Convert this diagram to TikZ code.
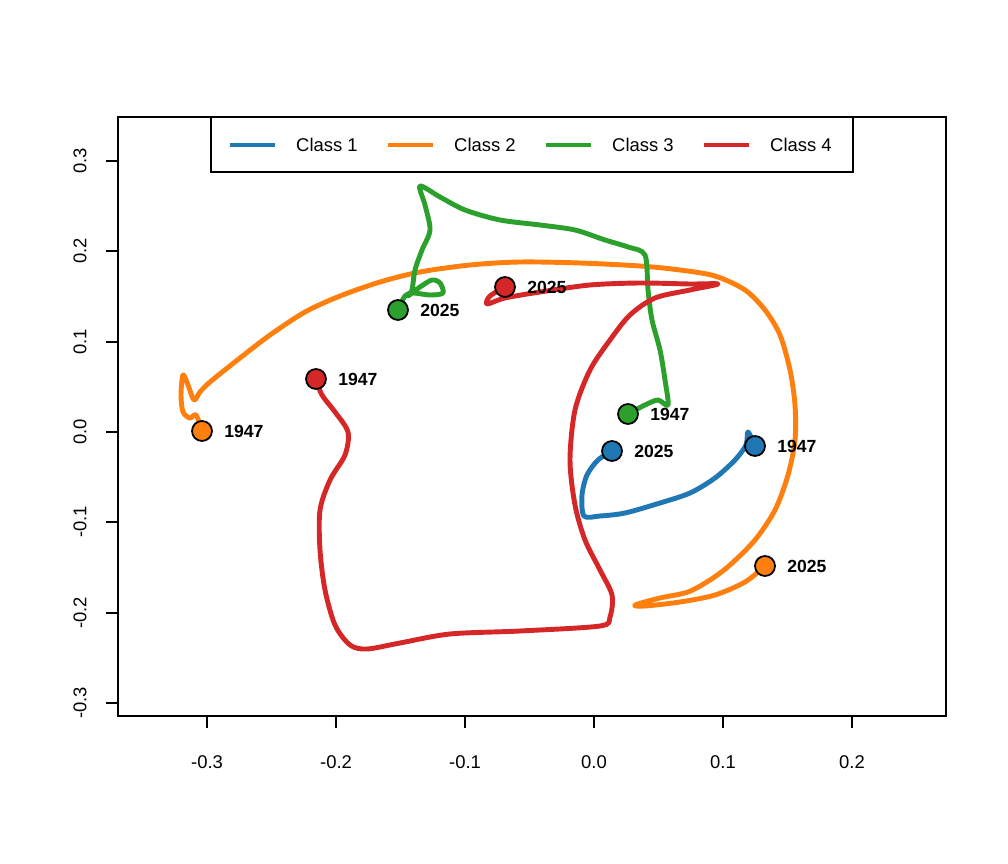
\documentclass[tikz,border=0pt]{standalone}
\usepackage{fontspec}
\setmainfont{Liberation Sans}
\begin{document}
\begin{tikzpicture}[x=0.02cm,y=-0.02cm,
  curve/.style={line width=2.8pt,smooth,tension=0.5,line cap=round,line join=round},
  pt/.style={circle,draw=black,line width=1pt,minimum size=0.4cm,inner sep=0pt},
  yl/.style={font=\bfseries\fontsize{10}{12}\selectfont,anchor=west},
  tick/.style={font=\fontsize{10.5}{12}\selectfont}]
\definecolor{c1}{HTML}{1F77B4}\definecolor{c2}{HTML}{FF7F0E}
\definecolor{c3}{HTML}{2CA02C}\definecolor{c4}{HTML}{D62728}
\useasboundingbox (0,0) rectangle (1008,864);
\draw[line width=0.6pt] (118,117) rectangle (946,716);
\foreach \x/\l in {207/-0.3,336/-0.2,465/-0.1,594/0.0,723/0.1,852/0.2}{
  \draw[line width=0.6pt] (\x,716)--(\x,728);
  \node[tick] at (\x,762) {\l};}
\draw[line width=0.6pt] (207,716)--(852,716);
\foreach \y/\l in {161/0.3,251/0.2,342/0.1,432/0.0,522/-0.1,613/-0.2,703/-0.3}{
  \draw[line width=0.6pt] (118,\y)--(106,\y);
  \node[tick,rotate=90] at (80,\y) {\l};}
\draw[line width=0.6pt] (118,161)--(118,703);
% legend
\draw[line width=0.6pt,fill=white] (211,117) rectangle (853,172);
\foreach \a/\c/\t in {230/c1/Class 1,388/c2/Class 2,546/c3/Class 3,704/c4/Class 4}{
  \draw[\c,line width=2.8pt] (\a,145)--++(45,0);
  \node[tick,anchor=west] at (\a+60,145) {\t};}
% curves
\draw[c1,curve] plot coordinates {(755,446)(748,432)(746,445)(735,460)(715,478)(690,493)(660,503)(625,513)(600,516)(584,516)(582,495)(587,475)(598,460)(612,451)};
\draw[c2,curve] plot coordinates {(202,431)(196,415)(190,418)(183,412)(181,395)(183,375)(188,385)(194,400)(200,392)(210,382)(240,358)(270,335)(305,312)(340,296)(380,282)(420,272)(470,265)(520,262)(580,263)(640,266)(680,270)(715,276)(745,290)(765,310)(780,335)(790,370)(795,405)(795,440)(788,475)(775,510)(755,540)(730,565)(710,580)(688,592)(660,598)(635,605)(645,606)(680,602)(715,595)(745,582)(765,566)};
\draw[c3,curve] plot coordinates {(628,414)(645,405)(658,400)(668,405)(665,380)(660,350)(652,320)(648,290)(645,255)(628,247)(605,240)(575,230)(540,225)(500,220)(465,210)(440,197)(420,186)(425,205)(430,230)(422,250)(415,270)(412,290)(408,296)(420,287)(432,280)(440,283)(443,293)(430,295)(413,293)(405,296)(398,310)};
\draw[c4,curve] plot coordinates {(316,379)(322,395)(335,412)(348,432)(345,455)(330,480)(320,510)(320,550)(325,590)(335,625)(350,645)(367,649)(400,643)(450,634)(520,631)(600,626)(610,617)(612,595)(600,570)(585,540)(575,505)(570,460)(575,410)(590,370)(610,340)(630,315)(655,298)(690,290)(718,284)(690,284)(640,283)(590,285)(540,292)(505,298)(487,304)(490,296)(505,287)};
% points
\node[pt,fill=c1] (b1) at (755,446) {}; \node[yl] at ([xshift=3pt]b1.east) {1947};
\node[pt,fill=c1] (b2) at (612,451) {}; \node[yl] at ([xshift=3pt]b2.east) {2025};
\node[pt,fill=c2] (o1) at (202,431) {}; \node[yl] at ([xshift=3pt]o1.east) {1947};
\node[pt,fill=c2] (o2) at (765,566) {}; \node[yl] at ([xshift=3pt]o2.east) {2025};
\node[pt,fill=c3] (g1) at (628,414) {}; \node[yl] at ([xshift=3pt]g1.east) {1947};
\node[pt,fill=c3] (g2) at (398,310) {}; \node[yl] at ([xshift=3pt]g2.east) {2025};
\node[pt,fill=c4] (r1) at (316,379) {}; \node[yl] at ([xshift=3pt]r1.east) {1947};
\node[pt,fill=c4] (r2) at (505,287) {}; \node[yl] at ([xshift=3pt]r2.east) {2025};
\end{tikzpicture}
\end{document}
